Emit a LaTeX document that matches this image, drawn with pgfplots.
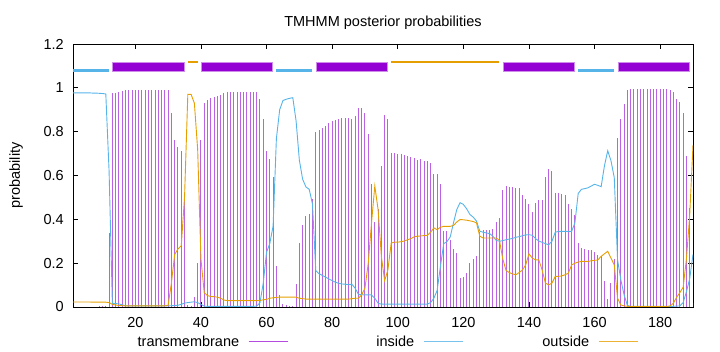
\documentclass[border=0pt]{standalone}
\usepackage{fontspec}
\setmainfont{Liberation Sans}
\usepackage{pgfplots}
\usepackage{pgfplotstable}
\pgfplotsset{compat=1.18}
\definecolor{tmc}{HTML}{9400D3}
\definecolor{inc}{HTML}{56B4E9}
\definecolor{outc}{HTML}{E69F00}
\newcommand\fsz{\fontsize{14.5bp}{17bp}\selectfont}
\pgfplotsset{mylegimg/.style={legend image code/.code={\path (0bp,0bp) (46bp,0bp); \draw[#1, line width=1bp] (0bp,0bp) -- (39bp,0bp);}}}
\pgfplotstableread{
x tm in out
1 0 0.977 0.023
2 0 0.977 0.023
3 0 0.977 0.023
4 0 0.977 0.023
5 0 0.977 0.023
6 0 0.977 0.023
7 0.002 0.976 0.022
8 0.002 0.976 0.022
9 0.003 0.975 0.022
10 0.004 0.974 0.022
11 0.006 0.972 0.022
12 0.338 0.62 0.020
13 0.975 0.015 0.012
14 0.975 0.016 0.009
15 0.980 0.014 0.007
16 0.985 0.010 0.006
17 0.990 0.006 0.005
18 0.990 0.005 0.005
19 0.990 0.005 0.005
20 0.990 0.005 0.005
21 0.990 0.005 0.005
22 0.990 0.005 0.005
23 0.990 0.005 0.005
24 0.990 0.005 0.005
25 0.990 0.005 0.005
26 0.990 0.005 0.005
27 0.990 0.005 0.005
28 0.990 0.005 0.005
29 0.990 0.005 0.005
30 0.990 0.005 0.008
31 0.887 0.006 0.110
32 0.763 0.007 0.240
33 0.728 0.008 0.265
34 0.713 0.012 0.280
35 0.514 0.018 0.500
36 0.010 0.020 0.970
37 0.005 0.022 0.970
38 0.046 0.024 0.930
39 0.199 0.020 0.720
40 0.763 0.012 0.220
41 0.931 0.004 0.065
42 0.946 0.003 0.052
43 0.954 0.003 0.048
44 0.960 0.003 0.047
45 0.965 0.003 0.045
46 0.968 0.003 0.040
47 0.975 0.003 0.032
48 0.980 0.003 0.029
49 0.980 0.003 0.029
50 0.980 0.003 0.029
51 0.980 0.003 0.029
52 0.980 0.003 0.029
53 0.980 0.003 0.029
54 0.980 0.003 0.029
55 0.980 0.003 0.029
56 0.980 0.003 0.029
57 0.980 0.004 0.029
58 0.950 0.020 0.030
59 0.857 0.110 0.033
60 0.712 0.250 0.035
61 0.674 0.290 0.040
62 0.595 0.370 0.042
63 0.188 0.768 0.044
64 0.055 0.900 0.045
65 0.013 0.942 0.045
66 0.010 0.948 0.045
67 0.003 0.952 0.045
68 0.003 0.955 0.045
69 0.105 0.850 0.045
70 0.290 0.670 0.040
71 0.376 0.583 0.038
72 0.417 0.548 0.036
73 0.426 0.537 0.036
74 0.494 0.470 0.036
75 0.797 0.167 0.036
76 0.809 0.152 0.036
77 0.816 0.144 0.036
78 0.827 0.136 0.036
79 0.839 0.128 0.036
80 0.847 0.120 0.036
81 0.855 0.113 0.036
82 0.858 0.108 0.036
83 0.862 0.105 0.036
84 0.862 0.104 0.036
85 0.862 0.102 0.036
86 0.860 0.104 0.038
87 0.873 0.086 0.040
88 0.908 0.058 0.040
89 0.908 0.056 0.055
90 0.883 0.055 0.086
91 0.789 0.055 0.200
92 0.560 0.055 0.384
93 0.390 0.040 0.552
94 0.445 0.017 0.445
95 0.644 0.013 0.231
96 0.876 0.013 0.120
97 0.858 0.013 0.170
98 0.702 0.013 0.292
99 0.702 0.013 0.296
100 0.700 0.013 0.296
101 0.697 0.013 0.298
102 0.693 0.013 0.301
103 0.687 0.013 0.307
104 0.683 0.013 0.312
105 0.680 0.013 0.320
106 0.671 0.013 0.323
107 0.674 0.013 0.324
108 0.666 0.013 0.326
109 0.665 0.013 0.327
110 0.659 0.020 0.341
111 0.606 0.040 0.361
112 0.606 0.075 0.353
113 0.560 0.185 0.364
114 0.346 0.289 0.368
115 0.346 0.298 0.368
116 0.307 0.320 0.368
117 0.265 0.385 0.372
118 0.246 0.445 0.388
119 0.132 0.476 0.399
120 0.136 0.468 0.398
121 0.157 0.448 0.396
122 0.203 0.422 0.393
123 0.219 0.410 0.390
124 0.231 0.392 0.384
125 0.341 0.346 0.323
126 0.353 0.341 0.315
127 0.353 0.338 0.315
128 0.353 0.335 0.315
129 0.356 0.323 0.315
130 0.387 0.304 0.315
131 0.407 0.300 0.304
132 0.533 0.303 0.220
133 0.552 0.307 0.167
134 0.549 0.310 0.157
135 0.547 0.313 0.151
136 0.544 0.318 0.147
137 0.544 0.321 0.157
138 0.510 0.325 0.169
139 0.495 0.329 0.192
140 0.468 0.330 0.243
141 0.433 0.327 0.223
142 0.476 0.312 0.215
143 0.490 0.301 0.215
144 0.490 0.295 0.169
145 0.593 0.289 0.109
146 0.628 0.284 0.101
147 0.619 0.300 0.109
148 0.521 0.341 0.139
149 0.518 0.345 0.140
150 0.517 0.345 0.142
151 0.510 0.345 0.147
152 0.470 0.345 0.154
153 0.445 0.345 0.192
154 0.420 0.384 0.200
155 0.292 0.518 0.205
156 0.269 0.537 0.208
157 0.264 0.540 0.208
158 0.260 0.544 0.208
159 0.258 0.552 0.211
160 0.249 0.560 0.213
161 0.238 0.555 0.215
162 0.234 0.549 0.231
163 0.120 0.644 0.243
164 0.035 0.713 0.254
165 0.110 0.667 0.223
166 0.220 0.590 0.192
167 0.769 0.215 0.040
168 0.858 0.124 0.009
169 0.927 0.055 0.005
170 0.990 0.007 0.003
171 0.995 0.003 0.002
172 0.995 0.003 0.002
173 0.995 0.003 0.002
174 0.995 0.003 0.002
175 0.995 0.003 0.002
176 0.995 0.003 0.002
177 0.995 0.003 0.002
178 0.995 0.003 0.002
179 0.995 0.003 0.002
180 0.995 0.003 0.002
181 0.995 0.003 0.002
182 0.995 0.003 0.002
183 0.990 0.003 0.005
184 0.980 0.003 0.017
185 0.950 0.004 0.044
186 0.935 0.005 0.066
187 0.885 0.020 0.090
188 0.690 0.070 0.220
189 0.450 0.130 0.420
190 0.020 0.240 0.740
}\tmdata
\begin{document}
\fsz
\begin{tikzpicture}
\useasboundingbox (0,0) rectangle (720bp,352bp);
\begin{axis}[
  at={(73bp,45bp)}, anchor=south west,
  scale only axis, width=620bp, height=263bp,
  xmin=1, xmax=190, ymin=0, ymax=1.2,
  xtick={20,40,...,180}, ytick={0,0.2,...,1.2},
  /pgf/number format/assume math mode=true,
  tick align=inside, major tick length=5bp,
  axis line style={line width=0.8bp, black},
  every tick/.style={line width=0.8bp, black},
  tick label style={font=\fsz},
  xticklabel style={anchor=north, inner sep=0pt, yshift=-9.7bp},
  yticklabel style={anchor=east, inner sep=0pt, xshift=-9bp},
  every axis title/.style={at={(axis description cs:0.5,1)}, anchor=base, inner sep=0pt, yshift=17bp, font=\fsz},
  title={TMHMM posterior probabilities},
  every axis y label/.style={at={(axis description cs:-0.0855,0.5)}, rotate=90, anchor=base, inner sep=0pt, font=\fsz},
  ylabel={probability},
  legend columns=3,
  legend plot pos=right,
  legend style={draw=none, fill=none, inner sep=0pt, column sep=9bp,
    at={(axis description cs:0.0903,-0.132)}, anchor=west, font=\fsz,
    nodes={inner sep=0pt, text depth=0pt}, cells={anchor=center}},
]
\addplot[ycomb, draw=tmc!62!white, line width=1bp, mylegimg={tmc!70!white}] table[x=x,y=tm]{\tmdata};
\addlegendentry{\makebox[110bp][r]{transmembrane}}
\addplot[draw=inc, line width=0.9bp, mylegimg={inc!80!white}] table[x=x,y=in]{\tmdata};
\addlegendentry{\makebox[110bp][r]{inside}}
\addplot[draw=outc, line width=0.9bp, mylegimg={outc!80!white}] table[x=x,y=out]{\tmdata};
\addlegendentry{\makebox[110bp][r]{outside}}
% top segment bars
\addplot[forget plot, draw=inc, line width=2.5bp, unbounded coords=jump] coordinates {(1,1.078) (12,1.078) (nan,nan) (63,1.078) (74,1.078) (nan,nan) (155,1.078) (166,1.078)};
\addplot[forget plot, draw=outc, line width=2.2bp, unbounded coords=jump] coordinates {(36,1.118) (39,1.118) (nan,nan) (98,1.118) (131,1.118)};
\addplot[forget plot, draw=tmc!45!white, line width=10bp, unbounded coords=jump] coordinates {(13,1.097) (35,1.097) (nan,nan) (40,1.097) (62,1.097) (nan,nan) (75,1.097) (97,1.097) (nan,nan) (132,1.097) (154,1.097) (nan,nan) (167,1.097) (189,1.097)};
\addplot[forget plot, draw=tmc, line width=8bp, unbounded coords=jump] coordinates {(13.3,1.097) (34.7,1.097) (nan,nan) (40.3,1.097) (61.7,1.097) (nan,nan) (75.3,1.097) (96.7,1.097) (nan,nan) (132.3,1.097) (153.7,1.097) (nan,nan) (167.3,1.097) (188.7,1.097)};
\end{axis}
\end{tikzpicture}
\end{document}
